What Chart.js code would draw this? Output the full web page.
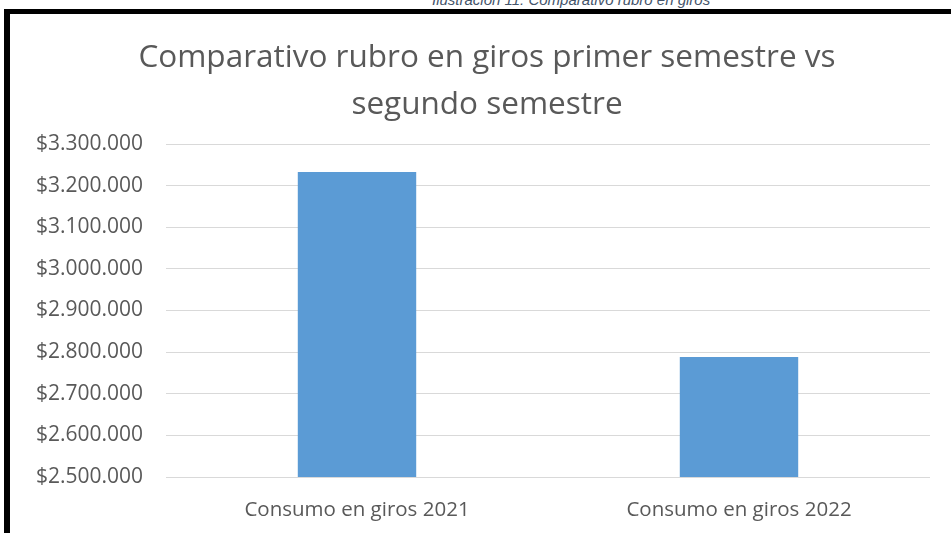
<!DOCTYPE html>
<html>
<head>
<meta charset="utf-8">
<script src="https://cdn.jsdelivr.net/npm/chart.js@4.4.1/dist/chart.umd.min.js"></script>
<style>
    html, body { margin: 0; padding: 0; background: #ffffff; }
    body { width: 951px; height: 533px; position: relative; overflow: hidden; }
    #caption {
        position: absolute; left: 432px; top: -9px;
        font: italic 15px "Liberation Sans", Arial, sans-serif;
        color: #44546a; white-space: nowrap;
    }
    #frame {
        position: absolute; left: 4px; top: 9px; width: 960px; height: 540px;
        border-left: 6px solid #000; border-top: 5px solid #000;
    }
    #chartBox { position: absolute; left: 10px; top: 14px; width: 941px; height: 519px; }
</style>
</head>
<body>
<div id="caption">Ilustración 11: Comparativo rubro en giros</div>
<div id="frame"></div>
<div id="chartBox"><canvas id="girosCanvas"></canvas></div>
<script>
// data
const categories = ["Consumo en giros 2021", "Consumo en giros 2022"];
const consumoValues = [3233000, 2788000];
const yMin = 2500000;
const yMax = 3300000;
const yStep = 100000;

function formatPesos(value) {
    return '$' + value.toLocaleString('es-CO').replace(/,/g, '.');
}

// the title in the original sits a bit right of the canvas centre
const shiftTitle = {
    id: 'shiftTitle',
    afterLayout(chart) {
        if (chart.titleBlock) {
            chart.titleBlock.left += 34;
        }
    }
};

let ctx = document.getElementById('girosCanvas').getContext('2d');
let girosChart = new Chart(ctx, {
    type: 'bar',
    data: {
        labels: categories,
        datasets: [{
            label: "Consumo",
            data: consumoValues,
            backgroundColor: '#5b9bd5',
            borderWidth: 0,
            barPercentage: 0.31,
            categoryPercentage: 1
        }]
    },
    plugins: [shiftTitle],
    options: {
        responsive: true,
        maintainAspectRatio: false,
        animation: false,
        layout: {
            padding: { left: 0, right: 21, top: 0, bottom: 0 }
        },
        plugins: {
            legend: { display: false },
            tooltip: { enabled: false },
            title: {
                display: true,
                text: ['Comparativo rubro en giros primer semestre vs', 'segundo semestre'],
                color: '#595959',
                font: { family: '"Open Sans"', size: 31.5, weight: 'normal', lineHeight: '47px' },
                padding: { top: 21, bottom: 15 }
            }
        },
        scales: {
            x: {
                afterFit: function (scale) { scale.height = 56; },
                grid: { display: false, drawTicks: false },
                border: { display: false },
                ticks: {
                    color: '#595959',
                    padding: 21,
                    font: { family: '"Open Sans"', size: 20.5 }
                }
            },
            y: {
                min: yMin,
                max: yMax,
                afterFit: function (scale) { scale.width = 156; },
                grid: { color: '#d9d9d9', lineWidth: 1, drawTicks: false },
                border: { display: false },
                ticks: {
                    stepSize: yStep,
                    color: '#595959',
                    padding: 23,
                    font: { family: '"Open Sans"', size: 21 },
                    callback: function (value) { return formatPesos(value); }
                }
            }
        }
    }
});
</script>
</body>
</html>
